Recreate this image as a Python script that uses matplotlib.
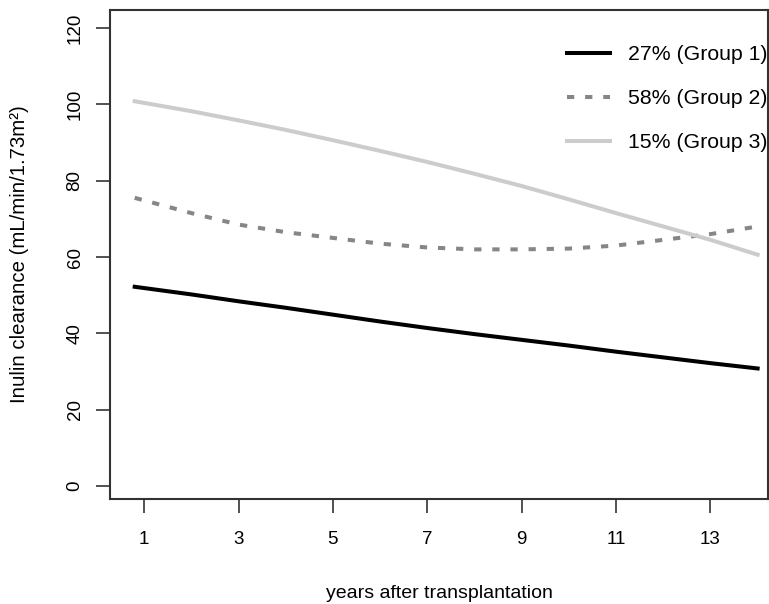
import matplotlib.pyplot as plt

plt.rcParams['font.family'] = ['Liberation Sans', 'DejaVu Sans']

# values
years = [0.8, 2, 3, 4, 5, 6, 7, 8, 9, 10, 11, 12, 13, 14]
group1 = [52.2, 50.2, 48.4, 46.7, 44.9, 43.1, 41.4, 39.8, 38.3, 36.8, 35.2, 33.7, 32.2, 30.8]
group2 = [75.5, 71.5, 68.5, 66.5, 65.0, 63.5, 62.5, 62.0, 62.0, 62.2, 63.0, 64.5, 66.0, 68.0]
group3 = [100.8, 98.2, 95.8, 93.3, 90.6, 87.8, 84.9, 81.8, 78.6, 75.1, 71.5, 68.0, 64.5, 60.6]
labels = ['27% (Group 1)', '58% (Group 2)', '15% (Group 3)']

fig = plt.figure(figsize=(7.69, 6.04), dpi=100)
ax = fig.add_axes([0.143, 0.1738, 0.8557, 0.8096])

ax.plot(years, group1, color='black', lw=2.9, label=labels[0])
ax.plot(years, group2, color='#868686', lw=2.9, ls=(0, (1.8, 2.7)), label=labels[1])
ax.plot(years, group3, color='#cccccc', lw=2.9, label=labels[2])

ax.set_xlim(0.276, 14.22)
ax.set_ylim(-3.4, 124.7)
ax.set_xticks([1, 3, 5, 7, 9, 11, 13])
ax.set_yticks([0, 20, 40, 60, 80, 100, 120])
ax.tick_params(axis='both', length=10, width=1.2, labelsize=13.5, color='#333333')
ax.tick_params(axis='x', pad=13)
ax.tick_params(axis='y', pad=9)
for lab in ax.get_yticklabels():
    lab.set_rotation(90)
    lab.set_va('center')
for s in ax.spines.values():
    s.set_linewidth(1.5)
    s.set_color('#333333')

ax.set_xlabel('years after transplantation', fontsize=14, labelpad=27)
ax.set_ylabel('Inulin clearance (mL/min/1.73m²)', fontsize=14.7, labelpad=27)

ax.legend(loc='upper right', frameon=False, fontsize=15.3, handlelength=2.0,
          handletextpad=0.85, labelspacing=1.18, borderpad=0, borderaxespad=0,
          bbox_to_anchor=(0.999, 0.928))

fig.savefig('out.png', dpi=100)
